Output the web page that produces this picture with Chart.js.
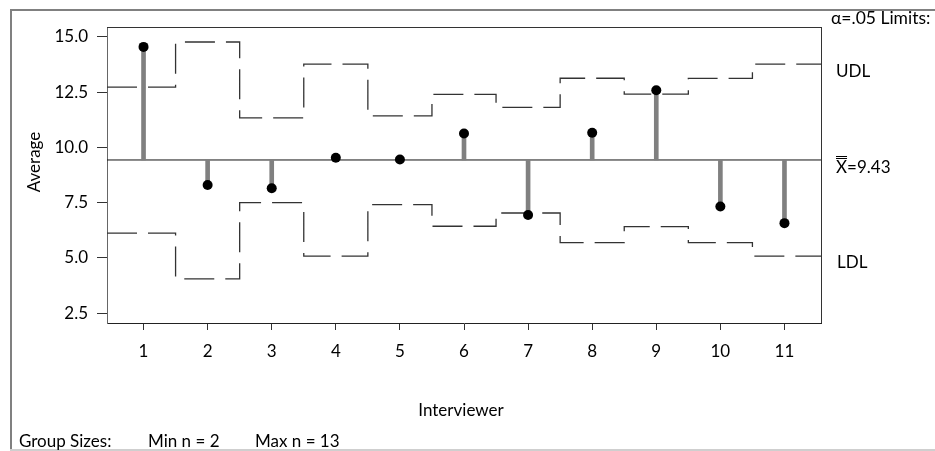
<!DOCTYPE html>
<html>
<head>
<meta charset="utf-8">
<script src="https://cdn.jsdelivr.net/npm/chart.js@4"></script>
<style>
html,body{margin:0;padding:0;background:#fff;overflow:hidden;}
#c{display:block;}
</style>
</head>
<body>
<canvas id="c" width="935" height="451"></canvas>
<script>
// ---- data ----
const categories = [1, 2, 3, 4, 5, 6, 7, 8, 9, 10, 11];
const averages   = [14.55, 8.30, 8.15, 9.53, 9.45, 10.63, 6.94, 10.66, 12.59, 7.32, 6.57];
const udl        = [12.73, 14.77, 11.34, 13.77, 11.43, 12.40, 11.81, 13.13, 12.41, 13.12, 13.77];
const ldl        = [6.12, 4.05, 7.50, 5.08, 7.41, 6.43, 7.03, 5.69, 6.41, 5.69, 5.08];
const centerLine = 9.43;
const yTicks     = [2.5, 5.0, 7.5, 10.0, 12.5, 15.0];
const xTicks     = categories;

const X_MIN = 0.43, X_MAX = 11.57;
const Y_MIN = 2.05, Y_MAX = 15.45;
const FONT = 'Lato, "Open Sans", sans-serif';
const FS = 17;

function stepData(vals) {
  const pts = [{x: X_MIN, y: vals[0]}];
  for (let i = 1; i < vals.length; i++) pts.push({x: categories[i] - 0.5, y: vals[i]});
  pts.push({x: X_MAX, y: vals[vals.length - 1]});
  return pts;
}

const framePlugin = {
  id: 'frame',
  beforeDraw(chart) {
    const ctx = chart.ctx;
    ctx.save();
    ctx.fillStyle = '#fff';
    ctx.fillRect(0, 0, chart.width, chart.height);
    ctx.restore();
  },
  afterDraw(chart) {
    const ctx = chart.ctx;
    const a = chart.chartArea;
    ctx.save();
    ctx.setTransform(1, 0, 0, 1, 0, 0);
    // outer frame
    ctx.fillStyle = '#808080';
    ctx.fillRect(10, 9, 2, 441);
    ctx.fillRect(10, 9, 925, 2);
    ctx.fillStyle = '#cfcfcf';
    ctx.fillRect(10, 449, 925, 2);
    // plot box top/right
    ctx.fillStyle = '#333';
    ctx.fillRect(a.left, a.top, a.right - a.left + 1, 1);
    ctx.fillRect(a.right, a.top, 1, a.bottom - a.top);

    ctx.fillStyle = '#000';
    ctx.font = FS + 'px ' + FONT;
    ctx.textBaseline = 'middle';
    ctx.textAlign = 'left';
    ctx.fillText('Group Sizes:', 19, 442);
    ctx.fillText('Min n = 2', 148, 442);
    ctx.fillText('Max n = 13', 255, 442);
    ctx.font = (FS + 0.5) + 'px ' + FONT;
    ctx.fillText('\u03B1=.05 Limits:', 831, 18);
    ctx.font = FS + 'px ' + FONT;
    ctx.fillText('UDL', 836, 72);
    ctx.fillText('LDL', 837, 263);
    // X double-bar label
    ctx.fillText('X=9.43', 836, 168);
    const xw = ctx.measureText('X').width;
    ctx.fillRect(836, 156, xw, 1);
    ctx.fillRect(836, 158, xw, 1);

    ctx.textAlign = 'center';
    ctx.fillText('Interviewer', 461, 411);
    ctx.translate(35, 162);
    ctx.rotate(-Math.PI / 2);
    ctx.fillText('Average', 0, 0);
    ctx.restore();
  }
};

new Chart(document.getElementById('c'), {
  type: 'bar',
  data: {
    datasets: [
      {
        type: 'line',
        label: 'Averages',
        data: categories.map((c, i) => ({x: c, y: averages[i]})),
        showLine: false,
        pointRadius: 5,
        pointBackgroundColor: '#000',
        pointBorderColor: '#000',
        pointBorderWidth: 0,
        order: 0
      },
      {
        type: 'bar',
        label: 'Stems',
        data: categories.map((c, i) => ({x: c, y: [centerLine, averages[i]]})),
        backgroundColor: '#808080',
        borderWidth: 0,
        barThickness: 4,
        order: 1
      },
      {
        type: 'line',
        label: 'Center',
        data: [{x: X_MIN, y: centerLine}, {x: X_MAX, y: centerLine}],
        borderColor: '#111',
        borderWidth: 1,
        pointRadius: 0,
        order: 2
      },
      {
        type: 'line',
        label: 'UDL',
        data: stepData(udl),
        stepped: 'before',
        borderColor: '#333',
        borderWidth: 1.3,
        borderDash: [30, 11],
        pointRadius: 0,
        fill: false,
        order: 3
      },
      {
        type: 'line',
        label: 'LDL',
        data: stepData(ldl),
        stepped: 'before',
        borderColor: '#333',
        borderWidth: 1.3,
        borderDash: [30, 11],
        pointRadius: 0,
        fill: false,
        order: 3
      }
    ]
  },
  options: {
    responsive: false,
    animation: false,
    devicePixelRatio: 1,
    layout: {padding: {left: 0, top: 27, right: 114, bottom: 0}},
    plugins: {legend: {display: false}, tooltip: {enabled: false}},
    scales: {
      x: {
        type: 'linear',
        min: X_MIN,
        max: X_MAX,
        offset: false,
        afterBuildTicks(scale) { scale.ticks = xTicks.map(v => ({value: v})); },
        afterFit(scale) { scale.height = 128; },
        grid: {offset: false, drawOnChartArea: false, drawTicks: true, tickLength: 7, color: '#333'},
        border: {display: true, color: '#222', width: 1},
        ticks: {color: '#000', font: {family: FONT, size: FS}, padding: 11, maxRotation: 0, autoSkip: false,
                callback: v => String(v)}
      },
      y: {
        type: 'linear',
        min: Y_MIN,
        max: Y_MAX,
        afterBuildTicks(scale) { scale.ticks = yTicks.map(v => ({value: v})); },
        afterFit(scale) { scale.width = 107; },
        grid: {drawOnChartArea: false, drawTicks: true, tickLength: 10, color: '#333'},
        border: {display: true, color: '#666', width: 1},
        ticks: {color: '#000', font: {family: FONT, size: FS}, padding: 9,
                callback: v => Number(v).toFixed(1)}
      }
    }
  },
  plugins: [framePlugin]
});
</script>
</body>
</html>
